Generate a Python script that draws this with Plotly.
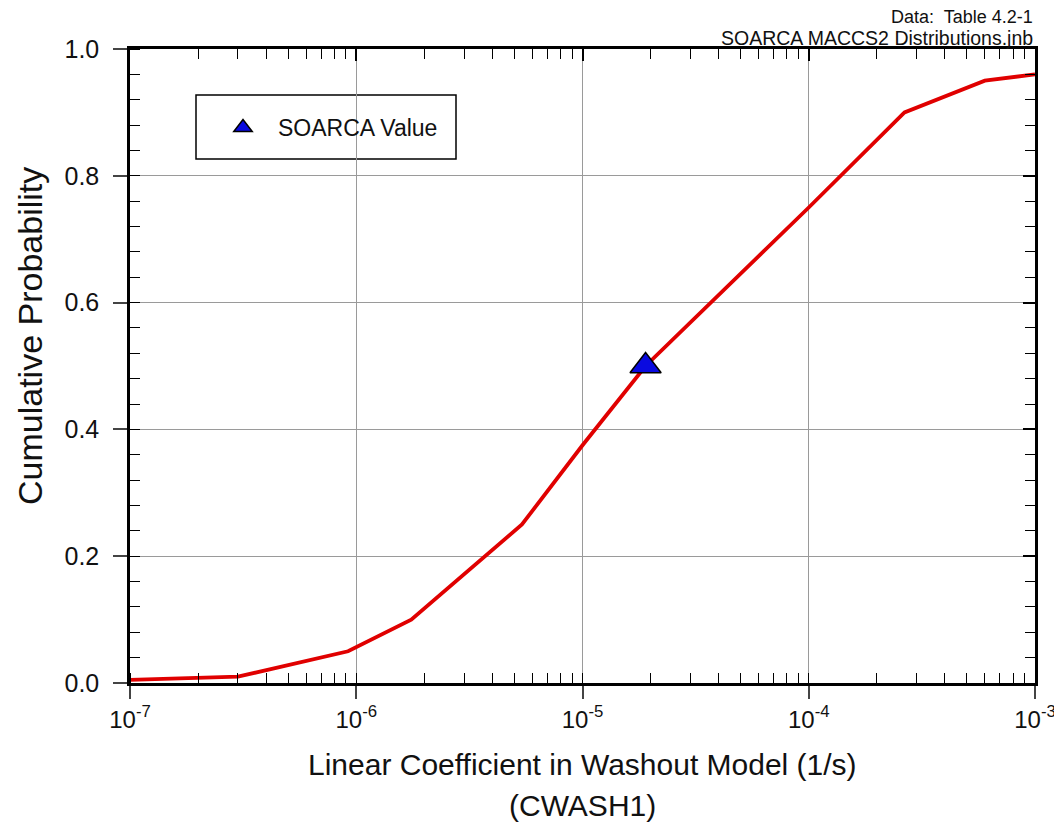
import plotly.graph_objects as go

# Data
washout_coeff = [1e-7, 3e-7, 9.2e-7, 1.75e-6, 5.4e-6, 1.0e-5, 1.9e-5, 1.0e-4, 2.65e-4, 6.0e-4, 1.0e-3]
cum_prob = [0.005, 0.01, 0.05, 0.10, 0.25, 0.375, 0.50, 0.75, 0.90, 0.95, 0.96]
soarca_x = [1.9e-5]
soarca_y = [0.50]
x_tick_vals = [1e-7, 1e-6, 1e-5, 1e-4, 1e-3]
x_tick_text = ["10<sup>-7</sup>", "10<sup>-6</sup>", "10<sup>-5</sup>", "10<sup>-4</sup>", "10<sup>-3</sup>"]
y_tick_vals = [0.0, 0.2, 0.4, 0.6, 0.8, 1.0]
y_tick_text = ["0.0", "0.2", "0.4", "0.6", "0.8", "1.0"]

FONT = "Liberation Sans, Arial, sans-serif"
RED = "#e00000"
TXT = "#111"

OFF = 8  # page body margin
W, H = 1052, 820
# plot area in screen pixels: x 130..1035, y 49..683
L, T = 130 - OFF, 49 - OFF
R = W - (1035 - OFF)
B = H - (683 - OFF)
PW, PH = W - L - R, H - T - B

def px_x(px):
    return (px - OFF - L) / PW

def px_y(py):
    return (H - B - (py - OFF)) / PH

fig = go.Figure()
fig.add_trace(go.Scatter(x=washout_coeff, y=cum_prob, mode="lines",
                         line=dict(color=RED, width=3.8), showlegend=False,
                         hoverinfo="skip"))
fig.add_trace(go.Scatter(x=soarca_x, y=soarca_y, mode="markers", name="SOARCA Value",
                         marker=dict(symbol="triangle-up", size=27, color="#0a0ae0",
                                     line=dict(color="black", width=1.5))))
# invisible trace to drive mirrored top/right axes
fig.add_trace(go.Scatter(x=washout_coeff, y=cum_prob, xaxis="x2", yaxis="y2",
                         mode="lines", line=dict(width=0), opacity=0,
                         showlegend=False, hoverinfo="skip"))

xrange = [-7, -3]
minor_common = dict(ticks="inside", ticklen=10, tickwidth=1.3, tickcolor="black", showgrid=False)
fig.update_layout(
    width=W, height=H,
    margin=dict(l=L, r=R, t=T, b=B, autoexpand=False),
    paper_bgcolor="white", plot_bgcolor="white",
    font=dict(family=FONT, color=TXT),
    xaxis=dict(type="log", range=xrange, tickvals=x_tick_vals, ticktext=x_tick_text,
               ticks="outside", ticklen=13, tickwidth=1.5, tickcolor="#444",
               showline=True, linecolor="black", linewidth=2.5,
               showgrid=True, gridcolor="#9a9a9a", gridwidth=1,
               tickfont=dict(size=24, family=FONT, color=TXT),
               ticklabeloverflow="allow",
               minor=dict(dtick="D1", **minor_common),
               automargin=False, zeroline=False),
    yaxis=dict(range=[0, 1], tickvals=y_tick_vals, ticktext=y_tick_text,
               ticks="outside", ticklen=14, tickwidth=1.5, tickcolor="#444",
               showline=True, linecolor="black", linewidth=2.5,
               showgrid=True, gridcolor="#9a9a9a", gridwidth=1,
               tickfont=dict(size=25, family=FONT, color=TXT),
               ticklabelstandoff=9, ticklabeloverflow="allow",
               minor=dict(dtick=0.04, **minor_common),
               automargin=False, zeroline=False),
    xaxis2=dict(type="log", range=xrange, overlaying="x", side="top",
                tickvals=x_tick_vals, ticks="inside", ticklen=12, tickwidth=1.5,
                tickcolor="black", showticklabels=False, showgrid=False,
                showline=True, linecolor="black", linewidth=2.5,
                minor=dict(dtick="D1", **minor_common), automargin=False, zeroline=False),
    yaxis2=dict(range=[0, 1], overlaying="y", side="right",
                tickvals=y_tick_vals, ticks="inside", ticklen=12, tickwidth=1.5,
                tickcolor="black", showticklabels=False, showgrid=False,
                showline=True, linecolor="black", linewidth=2.5,
                minor=dict(dtick=0.04, **minor_common), automargin=False, zeroline=False),
    legend=dict(x=px_x(208), y=px_y(106), xanchor="left", yanchor="top",
                bgcolor="rgba(0,0,0,0)", borderwidth=0,
                font=dict(size=23, family=FONT, color=TXT), itemwidth=60),
    shapes=[dict(type="rect", xref="paper", yref="paper",
                 x0=px_x(196), x1=px_x(456), y0=px_y(159), y1=px_y(95),
                 line=dict(color="black", width=1.5), fillcolor="white", layer="below")],
    annotations=[
        dict(text="Data:  Table 4.2-1", xref="paper", yref="paper",
             x=px_x(1035), y=px_y(17), xanchor="right", yanchor="middle",
             showarrow=False, font=dict(size=18, family=FONT, color=TXT)),
        dict(text="SOARCA MACCS2 Distributions.jnb", xref="paper", yref="paper",
             x=px_x(1035), y=px_y(38), xanchor="right", yanchor="middle",
             showarrow=False, font=dict(size=19.5, family=FONT, color=TXT)),
        dict(text="Linear Coefficient in Washout Model (1/s)", xref="paper", yref="paper",
             x=px_x(582), y=px_y(764), xanchor="center", yanchor="middle",
             showarrow=False, font=dict(size=30, family=FONT, color=TXT)),
        dict(text="(CWASH1)", xref="paper", yref="paper",
             x=px_x(582), y=px_y(806), xanchor="center", yanchor="middle",
             showarrow=False, font=dict(size=30, family=FONT, color=TXT)),
        dict(text="Cumulative Probability", xref="paper", yref="paper",
             x=px_x(30), y=px_y(336), xanchor="center", yanchor="middle", textangle=-90,
             showarrow=False, font=dict(size=34, family=FONT, color=TXT)),
    ],
)

fig.write_html("out.html")
